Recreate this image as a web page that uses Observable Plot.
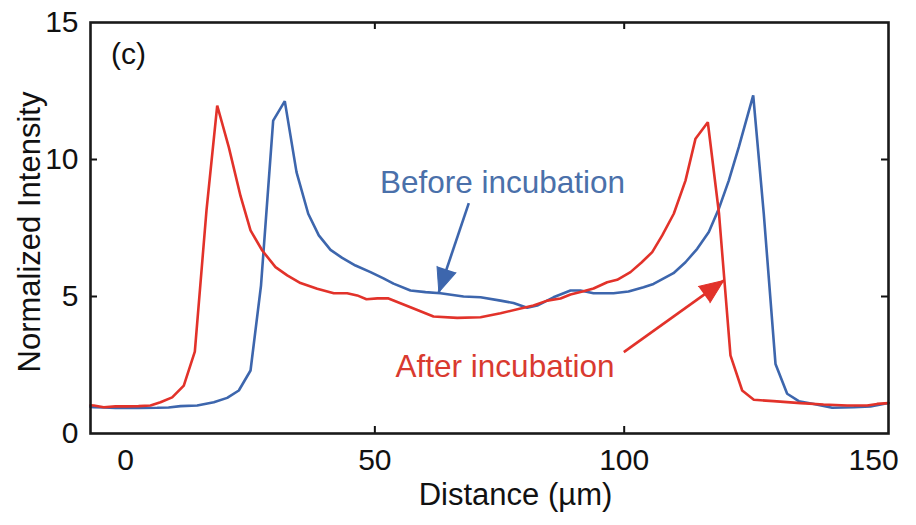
<!DOCTYPE html>
<html><head><meta charset="utf-8">
<script src="https://cdn.jsdelivr.net/npm/d3@7"></script>
<script src="https://cdn.jsdelivr.net/npm/@observablehq/plot@0.6"></script>
<style>body{margin:0;background:#fff}</style>
</head><body><div id="chart"></div>
<script>
// Distance (µm) and normalized intensity
const beforeX = [-7.02,-6.35,-4.42,-2.01,0.20,2.61,6.36,8.62,11.03,14.37,
  17.71,20.39,22.72,25.07,27.17,29.61,31.94,34.29,36.64,38.76,
  41.11,43.45,46.12,49.13,51.73,53.74,57.14,60.16,63.16,67.78,
  71.19,75.20,77.80,80.55,82.56,85.82,89.23,91.23,93.85,97.86,
  100.86,103.88,105.88,109.88,112.29,114.64,116.97,118.97,120.97,122.98,
  125.87,127.99,130.34,132.68,135.01,138.02,141.71,146.04,149.39,153.00];
const beforeY = [0.97,0.96,0.95,0.93,0.93,0.93,0.94,0.95,1.00,1.02,
  1.14,1.30,1.57,2.30,5.40,11.42,12.13,9.54,8.02,7.23,
  6.70,6.41,6.13,5.89,5.66,5.47,5.22,5.16,5.12,5.00,
  4.97,4.85,4.76,4.59,4.67,4.97,5.22,5.22,5.12,5.12,
  5.18,5.34,5.46,5.85,6.25,6.74,7.35,8.20,9.23,10.45,
  12.34,8.02,2.54,1.45,1.18,1.08,0.94,0.96,0.99,1.11];
const afterX = [-7.02,-6.35,-4.36,-2.01,0.20,2.61,5.01,7.01,9.36,11.69,
  13.90,16.24,18.39,20.71,23.06,25.07,27.42,30.08,32.43,35.09,
  38.44,41.77,44.45,46.46,48.32,50.53,52.74,57.14,61.76,66.51,
  71.19,75.20,79.21,81.81,84.56,87.23,89.23,91.84,93.85,96.59,
  98.59,101.26,103.47,105.62,107.63,109.94,112.29,114.30,116.77,119.01,
  121.31,123.66,125.99,129.94,135.36,139.96,144.72,148.72,150.73,153.00];
const afterY = [1.03,1.02,0.96,0.99,0.99,1.00,1.02,1.14,1.32,1.75,
  2.99,8.14,11.97,10.45,8.67,7.41,6.68,6.07,5.77,5.49,
  5.28,5.12,5.12,5.04,4.90,4.93,4.93,4.61,4.27,4.22,
  4.24,4.39,4.56,4.67,4.85,4.93,5.07,5.19,5.29,5.52,
  5.61,5.89,6.24,6.62,7.23,8.02,9.23,10.76,11.36,8.03,
  2.85,1.57,1.23,1.18,1.11,1.06,1.02,1.02,1.08,1.11];

const xTicks = [0, 50, 100, 150];
const yTicks = [0, 5, 10, 15];
const xTickMarks = [50, 100];
const yTickMarks = [5, 10];

const xLabel = "Distance (µm)";
const yLabel = "Normalized Intensity";
const panelLabel = "(c)";

// annotations: text labels and arrows (data coordinates)
const labelText = ["Before incubation", "After incubation"];
const labelX = [75.6, 76.1];
const labelY = [8.76, 2.08];
const arrowX1 = [68.84, 99.92];
const arrowY1 = [8.41, 2.97];
const arrowX2 = [62.83, 119.95];
const arrowY2 = [5.16, 5.58];

const blue = "#3d66ad";
const red = "#e2322a";
const labelColors = ["#4a70aa", "#d93a2f"];

const W = 916, H = 525, mL = 90, mR = 28, mT = 22, mB = 92;
const xDomain = [-7.02, 153.0];
const yDomain = [0, 15];
const pw = W - mL - mR, ph = H - mT - mB;
const kx = pw / (xDomain[1] - xDomain[0]), ky = ph / (yDomain[1] - yDomain[0]);

const before = beforeX.map((x, i) => ({x, y: beforeY[i]}));
const after = afterX.map((x, i) => ({x, y: afterY[i]}));
const labels = labelText.map((t, i) => ({t, x: labelX[i], y: labelY[i], c: labelColors[i]}));
const arrows = arrowX1.map((x1, i) => ({
  x1, y1: arrowY1[i], x2: arrowX2[i], y2: arrowY2[i], c: i === 0 ? blue : red,
  a: Math.atan2((arrowX2[i] - x1) * kx, (arrowY2[i] - arrowY1[i]) * ky) * 180 / Math.PI
}));

const chart = Plot.plot({
  width: W, height: H,
  marginLeft: mL, marginRight: mR, marginTop: mT, marginBottom: mB,
  style: {fontFamily: "'Liberation Sans', Arial, sans-serif", background: "#fff", color: "#111"},
  x: {domain: xDomain},
  y: {domain: yDomain},
  marks: [
    Plot.axisX(xTicks, {tickSize: 0, tickPadding: 15, fontSize: 30, label: null}),
    Plot.axisY(yTicks, {tickSize: 0, tickPadding: 12, fontSize: 30, label: null}),
    Plot.tickX(xTickMarks, {x: d => d, insetTop: ph - 7, stroke: "#111", strokeWidth: 2}),
    Plot.tickX(xTickMarks, {x: d => d, insetBottom: ph - 7, stroke: "#111", strokeWidth: 2}),
    Plot.tickY(yTickMarks, {y: d => d, insetRight: pw - 7, stroke: "#111", strokeWidth: 2}),
    Plot.tickY(yTickMarks, {y: d => d, insetLeft: pw - 7, stroke: "#111", strokeWidth: 2}),
    Plot.line(before, {x: "x", y: "y", stroke: blue, strokeWidth: 2.6, strokeLinejoin: "miter"}),
    Plot.line(after, {x: "x", y: "y", stroke: red, strokeWidth: 2.6, strokeLinejoin: "miter"}),
    Plot.link(arrows, {x1: "x1", y1: "y1", x2: "x2", y2: "y2", stroke: "c", strokeWidth: 2.6}),
    Plot.vector(arrows, {x: "x2", y: "y2", rotate: "a", length: 24, r: 10, shape: "spike",
      anchor: "end", fill: "c", stroke: "c", strokeWidth: 1}),
    Plot.text(labels, {x: "x", y: "y", text: "t", fill: "c", fontSize: 31.5, lineAnchor: "bottom", textAnchor: "middle"}),
    Plot.text([panelLabel], {x: 0.6, y: 13.5, text: d => d, fontSize: 30, lineAnchor: "bottom", fill: "#111"}),
    Plot.text([xLabel], {frameAnchor: "bottom", dx: 26, dy: 71, text: d => d, fontSize: 31, lineAnchor: "bottom", fill: "#111"}),
    Plot.text([yLabel], {frameAnchor: "left", dx: -60, dy: 4, rotate: -90, text: d => d, fontSize: 31, lineAnchor: "middle", textAnchor: "middle", fill: "#111"}),
    Plot.frame({stroke: "#1a1a1a", strokeWidth: 2.6})
  ]
});
document.getElementById("chart").appendChild(chart);
</script>
</body></html>
